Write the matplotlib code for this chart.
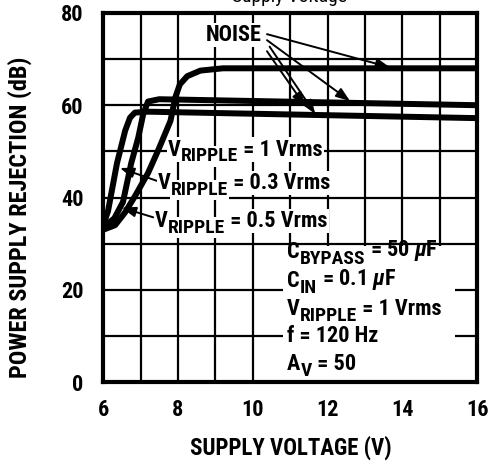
import matplotlib.pyplot as plt
from matplotlib.patches import Rectangle
from matplotlib import font_manager

names = {f.name for f in font_manager.fontManager.ttflist}
narrow = [n for n in ['Liberation Sans Narrow', 'Roboto Condensed', 'DejaVu Sans'] if n in names]
plt.rcParams['font.family'] = narrow
plt.rcParams['font.stretch'] = 'condensed'
plt.rcParams['font.weight'] = 'bold'
plt.rcParams['axes.labelweight'] = 'bold'
plt.rcParams['mathtext.fontset'] = 'custom'
plt.rcParams['mathtext.rm'] = narrow[0] + ':bold'
plt.rcParams['mathtext.it'] = narrow[0] + ':bold:italic'

# curves
v_low = [6.0, 6.13, 6.37, 6.59, 6.72, 6.85, 7.2, 16]
psr_low = [34, 37, 47.4, 54.5, 57.3, 58.4, 58.6, 57.2]

v_mid = [6.0, 6.3, 6.53, 6.75, 6.94, 7.07, 7.2, 7.5, 16]
psr_mid = [33.5, 35.5, 39, 47.4, 53, 58, 60.8, 61.3, 60]

v_top = [6.0, 6.32, 6.59, 6.86, 7.2, 7.47, 7.8, 7.93, 8.05, 8.25, 8.6, 9.2, 16]
psr_top = [33, 34, 36.8, 40.4, 45.3, 50.2, 56.6, 61.7, 64.5, 66.3, 67.5, 68, 68]

# NOISE arrows: (start, tip)
noise_arrows = [((10.38, 75.4), (13.67, 68.2)),
                ((10.38, 74.1), (12.6, 60.9)),
                ((10.45, 72.7), (11.67, 58.1)),
                ((10.38, 71.7), (11.4, 59.8))]

# labels as (text, subscript?) pieces
ripple_labels = [[('V', False), ('RIPPLE', True), (' = 1 Vrms', False)],
                 [('V', False), ('RIPPLE', True), (' = 0.3 Vrms', False)],
                 [('V', False), ('RIPPLE', True), (' = 0.5 Vrms', False)]]
ripple_pos = [(7.74, 48.0), (7.47, 40.7), (7.39, 32.6)]
ripple_arrows = [((7.44, 43.6), (6.45, 46.4)),
                 ((7.34, 35.7), (6.5, 37.8))]

cond_labels = [[('C', False), ('BYPASS', True), (r' = 50 $\mu$F', False)],
               [('C', False), ('IN', True), (r' = 0.1 $\mu$F', False)],
               [('V', False), ('RIPPLE', True), (' = 1 Vrms', False)],
               [('f = 120 Hz', False)],
               [('A', False), ('V', True), (' = 50', False)]]
cond_y = [25.7, 19.5, 13.5, 7.7, 1.6]

MAIN, SUB, DROP = 16, 14, 3.5
WHITE = dict(facecolor='white', edgecolor='none', pad=0.8)


def sub_text(ax, x, y, parts, box=None):
    t = ax.text(x, y, parts[0][0], fontsize=MAIN, va='bottom', ha='left',
                zorder=4, bbox=box)
    low = parts[0][1]
    for s, is_sub in parts[1:]:
        dy = 0
        if is_sub and not low:
            dy = -DROP
        elif low and not is_sub:
            dy = DROP
        t = ax.annotate(s, xy=(1, 0), xycoords=t, xytext=(0, dy),
                        textcoords='offset points', va='bottom', ha='left',
                        fontsize=SUB if is_sub else MAIN, zorder=4, bbox=box)
        low = is_sub


fig = plt.figure(figsize=(4.91, 4.62), dpi=100)
ax = fig.add_axes([0.210, 0.173, 0.762, 0.799])

for v, p in [(v_low, psr_low), (v_mid, psr_mid), (v_top, psr_top)]:
    ax.plot(v, p, color='black', lw=4.3, solid_joinstyle='round',
            solid_capstyle='round', zorder=3)

ax.set_xlim(6, 16)
ax.set_ylim(0, 80)
ax.set_xticks(range(6, 17, 2))
ax.set_xticks(range(6, 17), minor=True)
ax.set_yticks(range(0, 81, 20))
ax.set_yticks(range(0, 81, 10), minor=True)
ax.set_axisbelow(True)
ax.grid(which='both', color='black', lw=1.6)
ax.tick_params(which='both', length=0, labelsize=16)
ax.tick_params(axis='x', pad=12)
ax.tick_params(axis='y', pad=14)
for s in ax.spines.values():
    s.set_linewidth(3)

ax.set_xlabel('SUPPLY VOLTAGE (V)', fontsize=16.5)
ax.xaxis.set_label_coords(0.501, -0.145)
ax.set_ylabel('POWER SUPPLY REJECTION (dB)', fontsize=17.5)
ax.yaxis.set_label_coords(-0.19, 0.447)

# blank area behind the test conditions
ax.add_patch(Rectangle((10.8, 0), 4.6, 29.5, facecolor='white',
                       edgecolor='none', zorder=1))

ax.text(9.48, 75.3, 'NOISE', fontsize=MAIN, ha='center', va='center',
        zorder=4, bbox=WHITE)
for start, tip in noise_arrows + ripple_arrows:
    ax.annotate('', xy=tip, xytext=start, zorder=4,
                arrowprops=dict(arrowstyle='-|>,head_length=0.6,head_width=0.22',
                                color='black', lw=1.4, mutation_scale=14,
                                shrinkA=0, shrinkB=0))

for parts, (x, y) in zip(ripple_labels, ripple_pos):
    sub_text(ax, x, y, parts, box=WHITE)

for parts, y in zip(cond_labels, cond_y):
    sub_text(ax, 10.92, y, parts)

# title sits mostly above the top edge, as in the scanned original
fig.text(0.59, 0.996, 'Supply Voltage', fontsize=14, fontweight='normal',
         ha='center', va='baseline')

fig.savefig('out.png', dpi=100)
